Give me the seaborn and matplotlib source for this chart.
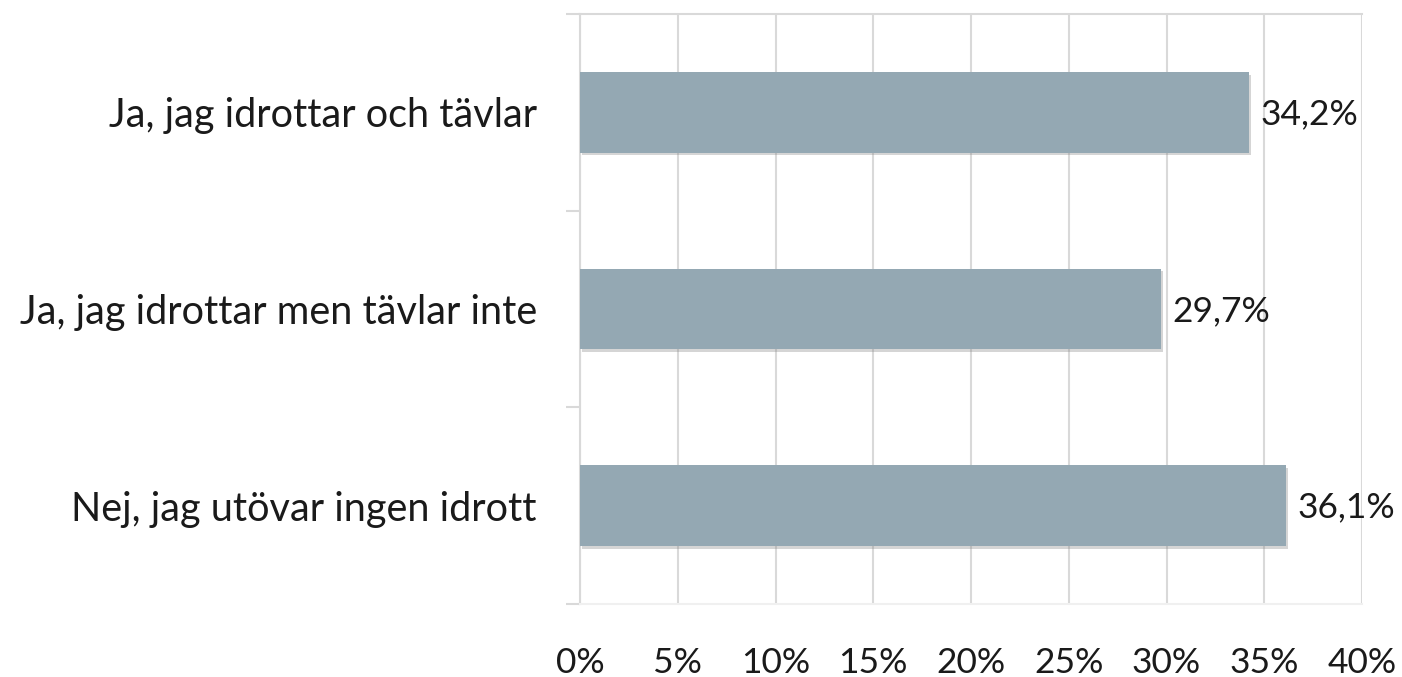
import matplotlib
matplotlib.use("Agg")
import matplotlib.pyplot as plt
import matplotlib.patheffects as pe
import seaborn as sns
import pandas as pd
from matplotlib.ticker import FixedLocator, FuncFormatter

# data
categories = ["Ja, jag idrottar och tävlar",
              "Ja, jag idrottar men tävlar inte",
              "Nej, jag utövar ingen idrott"]
values = [34.2, 29.7, 36.1]
value_labels = ["34,2%", "29,7%", "36,1%"]
x_ticks = [0, 5, 10, 15, 20, 25, 30, 35, 40]

df = pd.DataFrame({"kategori": categories, "andel": values})

sns.set_style("white")
plt.rcParams["font.family"] = ["Lato", "DejaVu Sans"]

fig = plt.figure(figsize=(14.02, 6.77), dpi=100)
ax = fig.add_axes([580 / 1402, 1 - 604 / 677, 782 / 1402, 590 / 677])

sns.barplot(data=df, x="andel", y="kategori", orient="h", color="#94A8B3",
            width=0.41, saturation=1, ax=ax)

for bar in ax.patches:
    bar.set_edgecolor("none")
    bar.set_path_effects([pe.SimplePatchShadow(offset=(1.5, -2), shadow_rgbFace="#888888", alpha=0.35),
                          pe.Normal()])
    bar.set_zorder(3)

for i, (v, lab) in enumerate(zip(values, value_labels)):
    ax.text(v + 0.6, i + 0.01, lab, va="center", ha="left", fontsize=25.5, color="#1a1a1a", zorder=4)

ax.set_xlim(0, 40)
ax.set_ylim(2.5, -0.5)
ax.xaxis.set_major_locator(FixedLocator(x_ticks))
ax.xaxis.set_major_formatter(FuncFormatter(lambda v, p: f"{int(v)}%"))
ax.tick_params(axis="x", length=0, pad=31, labelsize=25.5, labelcolor="#1a1a1a")
ax.grid(axis="x", color="#D9D9D9", linewidth=1.5, zorder=0)
ax.set_axisbelow(True)

# little boundary ticks between categories, like the original
ax.yaxis.set_minor_locator(FixedLocator([-0.5, 0.5, 1.5, 2.5]))
ax.tick_params(axis="y", which="major", left=False, length=0, pad=31, labelsize=28.5, labelcolor="#1a1a1a")
ax.tick_params(axis="y", which="minor", left=True, direction="out", length=10, width=1.5, color="#D9D9D9")

ax.set_xlabel("")
ax.set_ylabel("")
ax.spines["right"].set_visible(False)
ax.spines["top"].set_color("#D9D9D9")
ax.spines["top"].set_linewidth(1.5)
ax.spines["bottom"].set_color("#F0F0F0")
ax.spines["bottom"].set_linewidth(1.5)
ax.spines["left"].set_color("#D9D9D9")
ax.spines["left"].set_linewidth(1.5)

fig.savefig("out.png", dpi=100, facecolor="white")
